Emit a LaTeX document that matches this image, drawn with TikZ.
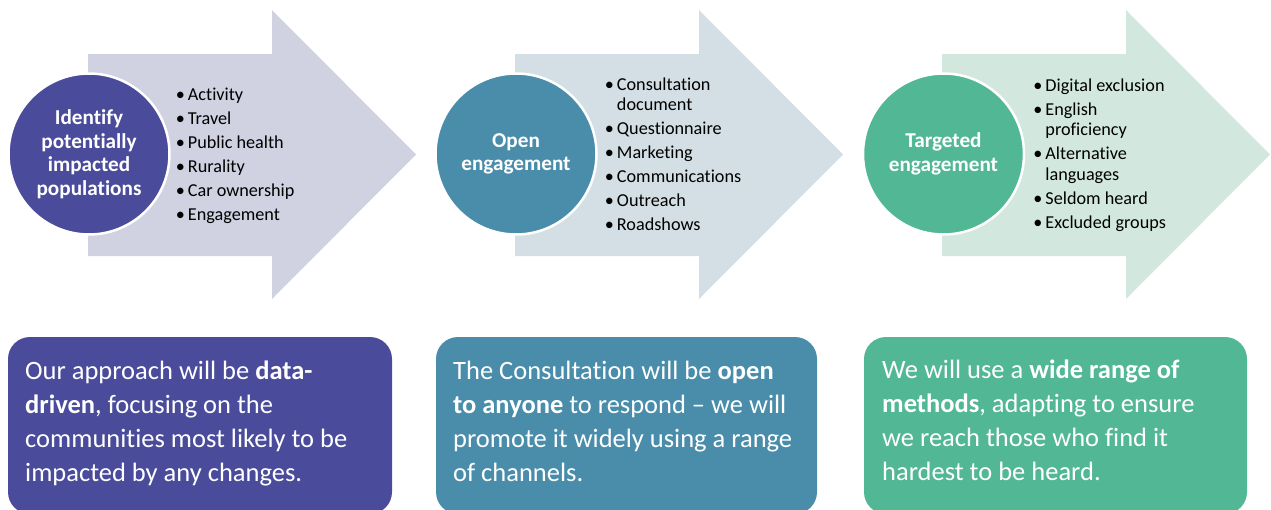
\documentclass[tikz,border=0pt]{standalone}
\usepackage{fontspec}
\setmainfont{Carlito}[Ligatures={TeX,NoCommon}]
\usetikzlibrary{positioning}

\definecolor{arrowA}{HTML}{D0D1E1}
\definecolor{arrowB}{HTML}{D3DFE4}
\definecolor{arrowC}{HTML}{D2E8DF}
\definecolor{stageA}{HTML}{4A4C9B}
\definecolor{stageB}{HTML}{4A8DAA}
\definecolor{stageC}{HTML}{52B794}

\newcommand{\itm}{\makebox[12pt][l]{\textbullet}}
\newcommand{\cnt}{\hspace*{12pt}}

\begin{document}
\begin{tikzpicture}[x=1pt,y=-1pt]
		\tikzstyle{stage} =[circle, draw=white, line width=2.5pt, minimum size=161pt, inner sep=0pt, align=center, text=white, font=\fontsize{21.2}{23.5}\selectfont\bfseries];
		\tikzstyle{items} =[inner sep=0pt, align=left, anchor=west, font=\fontsize{18.2}{20.5}\selectfont];
		\tikzstyle{message} =[inner sep=0pt, align=left, anchor=west, text=white, font=\fontsize{26.5}{34}\selectfont];
		\useasboundingbox (0,0) rectangle (1271,509);

		% big arrows
		\fill[arrowA] (88,54) -- (272,54) -- (272,10) -- (416,154.5) -- (272,299) -- (272,256) -- (88,256) -- cycle;
		\fill[arrowB] (515,54) -- (699,54) -- (699,10) -- (843,154.5) -- (699,299) -- (699,256) -- (515,256) -- cycle;
		\fill[arrowC] (942,54) -- (1126,54) -- (1126,10) -- (1270,154.5) -- (1126,299) -- (1126,256) -- (942,256) -- cycle;

		\node[stage, fill=stageA] (identify) at (89,154) {Identify\\potentially\\impacted\\populations};
		\node[items, right=5pt of identify, yshift=-2pt] (identifylist) {\itm Activity\\[3.5pt]\itm Travel\\[3.5pt]\itm Public health\\[3.5pt]\itm Rurality\\[3.5pt]\itm Car ownership\\[3.5pt]\itm Engagement};

		\node[stage, fill=stageB] (open) at (516,154) {Open\\engagement};
		\node[items, right=7pt of open] (openlist) {\itm Consultation\\\cnt document\\[3.5pt]\itm Questionnaire\\[3.5pt]\itm Marketing\\[3.5pt]\itm Communications\\[3.5pt]\itm Outreach\\[3.5pt]\itm Roadshows};

		\node[stage, fill=stageC] (targeted) at (943.5,154) {Targeted\\engagement};
		\node[items, right=8pt of targeted, yshift=-1pt] (targetedlist) {\itm Digital exclusion\\[3.5pt]\itm English\\\cnt proficiency\\[3.5pt]\itm Alternative\\\cnt languages\\[3.5pt]\itm Seldom heard\\[3.5pt]\itm Excluded groups};

		% summary boxes
		\fill[stageA, rounded corners=22pt] (8,337) rectangle (392,514);
		\fill[stageB, rounded corners=22pt] (436,337) rectangle (817,514);
		\fill[stageC, rounded corners=22pt] (864,337) rectangle (1247,514);

		\node[message] (identifytext) at (25,423.5) {Our approach will be \textbf{data-}\\\textbf{driven}, focusing on the\\communities most likely to be\\impacted by any changes.};
		\node[message] (opentext) at (453,421) {The Consultation will be \textbf{open}\\\textbf{to anyone} to respond – we will\\promote it widely using a range\\of channels.};
		\node[message] (targetedtext) at (882,420.5) {We will use a \textbf{wide range of}\\\textbf{methods}, adapting to ensure\\we reach those who find it\\hardest to be heard.};
	\end{tikzpicture}
\end{document}
